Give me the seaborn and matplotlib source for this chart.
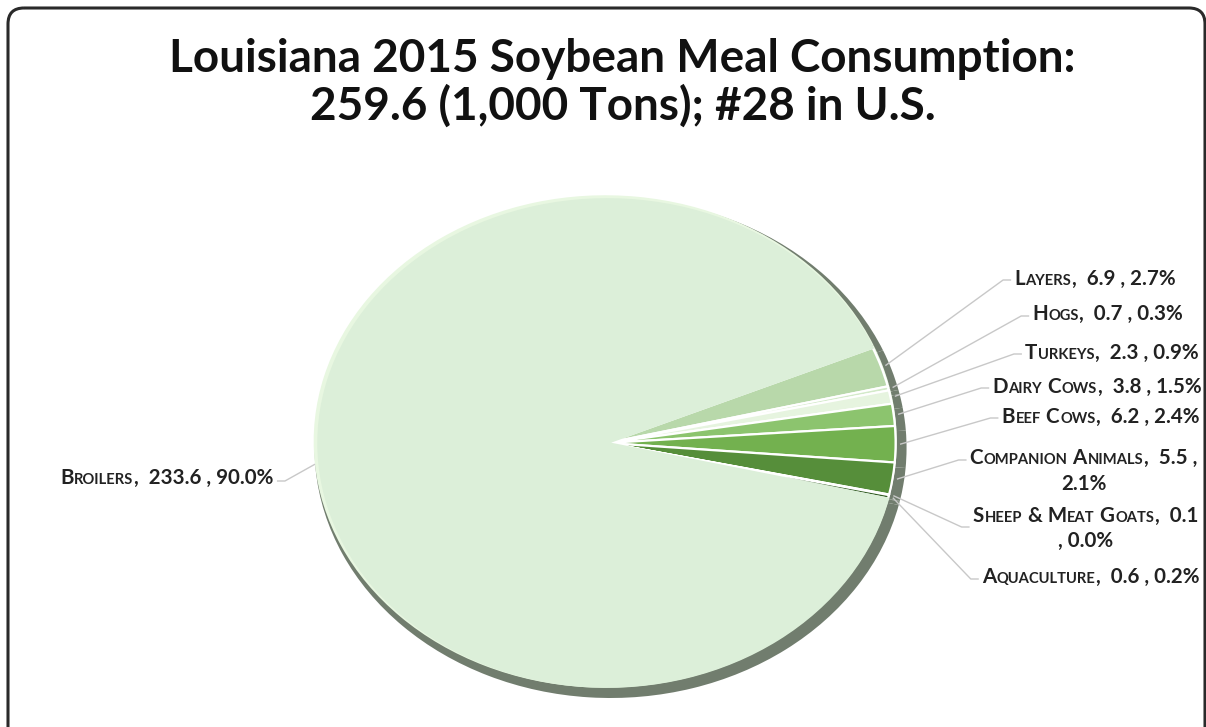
import numpy as np
import pandas as pd
import seaborn as sns
import matplotlib
matplotlib.use("Agg")
import matplotlib.pyplot as plt
from matplotlib.patches import FancyBboxPatch

# ---------------- data ----------------
categories = ["Layers", "Hogs", "Turkeys", "Dairy Cows", "Beef Cows",
              "Companion Animals", "Sheep & Meat Goats", "Aquaculture", "Broilers"]
values = [6.9, 0.7, 2.3, 3.8, 6.2, 5.5, 0.1, 0.6, 233.6]
percents = [2.7, 0.3, 0.9, 1.5, 2.4, 2.1, 0.0, 0.2, 90.0]
title_lines = ["Louisiana 2015 Soybean Meal Consumption:",
               "259.6 (1,000 Tons); #28 in U.S."]

colors = ["#b8d8aa", "#d3eac9", "#e6f4df", "#8cc46e", "#73b14f",
          "#568e3a", "#3f6e2b", "#2f5a20", "#dcefd9"]

# label layout (image pixel coords): centre x, baselines, anchor y
label_layout = {
    "Layers":             dict(cx=1095, by=[285],      ay=280),
    "Hogs":               dict(cx=1108, by=[320],      ay=316),
    "Turkeys":            dict(cx=1112, by=[359],      ay=354),
    "Dairy Cows":         dict(cx=1097, by=[393],      ay=388),
    "Beef Cows":          dict(cx=1101, by=[423],      ay=418),
    "Companion Animals":  dict(cx=1084, by=[464, 490], ay=460),
    "Sheep & Meat Goats": dict(cx=1086, by=[522, 547], ay=527),
    "Aquaculture":        dict(cx=1091, by=[583],      ay=579),
    "Broilers":           dict(cx=167,  by=[484],      ay=481),
}

sns.set_theme(style="white")
plt.rcParams["font.family"] = ["Lato", "DejaVu Sans"]

W, H = 1206, 727
fig = plt.figure(figsize=(W / 100, H / 100), dpi=100)
fig.patch.set_facecolor("white")

# ---------------- pie (elliptical) ----------------
cx, cy, rx, ry = 607, 443, 296, 250
pax = fig.add_axes([(cx - rx) / W, (H - (cy + ry)) / H, 2 * rx / W, 2 * ry / H])
startangle = 23
# shadow rim
pax.pie(values, colors=["#717d6e"] * len(values), startangle=startangle,
        counterclock=False, radius=1.0, center=(0.012, -0.02),
        wedgeprops=dict(linewidth=0))
# highlight rim top-left
pax.pie(values, colors=["#e8f7e1"] * len(values), startangle=startangle,
        counterclock=False, radius=0.985, center=(-0.006, 0.006),
        wedgeprops=dict(linewidth=0))
wedges, _ = pax.pie(values, colors=colors, startangle=startangle,
                    counterclock=False, radius=0.975, center=(0, 0),
                    wedgeprops=dict(linewidth=1.6, edgecolor="white"))
wedges[-1].set_edgecolor("#dcefd9")
pax.set_aspect("auto")
pax.set_xlim(-1, 1)
pax.set_ylim(-1, 1)
pax.axis("off")

# ---------------- overlays in image pixel coords ----------------
ov = fig.add_axes([0, 0, 1, 1], zorder=-1)
ov.set_xlim(0, W)
ov.set_ylim(H, 0)
ov.axis("off")
ov.add_patch(FancyBboxPatch((8, 8), 1197, 760,
                            boxstyle="round,pad=0,rounding_size=16",
                            fill=False, ec="#2a2a2a", lw=2.2, clip_on=True))

ov2 = fig.add_axes([0, 0, 1, 1], zorder=5)
ov2.set_xlim(0, W)
ov2.set_ylim(H, 0)
ov2.axis("off")
ov2.patch.set_alpha(0)

# title
tx_c = 0.5 * (170 + 1075) / W
fig.text(tx_c, (H - 72) / H, title_lines[0], ha="center",
         va="baseline", fontsize=33, fontweight="bold", color="#111111")
fig.text(tx_c, (H - 120) / H, title_lines[1], ha="center",
         va="baseline", fontsize=33, fontweight="bold", color="#111111")

renderer = fig.canvas.get_renderer()
BIG, SMALL = 14.8, 10.6


def smallcaps_runs(s):
    chars = []
    for ch in s:
        if ch.islower():
            chars.append([ch.upper(), SMALL])
        else:
            chars.append([ch, BIG])
    for i in range(len(chars) - 1, -1, -1):
        if chars[i][0] == " ":
            chars[i][1] = chars[i + 1][1] if i + 1 < len(chars) else BIG
    runs = []
    for c, sz in chars:
        if runs and runs[-1][1] == sz:
            runs[-1][0] += c
        else:
            runs.append([c, sz])
    return runs


def draw_line_runs(runs, centre_x, baseline):
    texts, widths = [], []
    for t, sz in runs:
        txt = fig.text(0, 0, t, fontsize=sz, fontweight="bold",
                       color="#222222", va="baseline", ha="left")
        w = txt.get_window_extent(renderer=renderer).width + 0.6
        texts.append(txt)
        widths.append(w)
    total = sum(widths)
    x = centre_x - total / 2
    left = x
    for txt, w in zip(texts, widths):
        txt.set_position((x / W, (H - baseline) / H))
        x += w
    return left, x


total = sum(values)
theta_start = startangle
for cat, val, pct in zip(categories, values, percents):
    span = val / total * 360
    mid = np.deg2rad(theta_start - span / 2)
    theta_start -= span
    lay = label_layout[cat]
    if len(lay["by"]) == 1:
        lines = [f"{cat},  {val:.1f} , {pct:.1f}%"]
    elif cat == "Companion Animals":
        lines = [f"{cat},  {val:.1f} ,", f"{pct:.1f}%"]
    else:
        lines = [f"{cat},  {val:.1f}", f", {pct:.1f}%"]
    extents = []
    for ln, by in zip(lines, lay["by"]):
        extents.append(draw_line_runs(smallcaps_runs(ln), lay["cx"], by))
    ex = cx + rx * 0.99 * np.cos(mid)
    ey = cy - ry * 0.99 * np.sin(mid)
    if cat == "Broilers":
        tx = extents[0][1] + 3
        ov2.plot([ex, tx + 8, tx], [ey, lay["ay"], lay["ay"]],
                 color="#c8c8c8", lw=1.0, solid_capstyle="butt")
    else:
        tx = min(e[0] for e in extents) - 3
        ov2.plot([ex, tx - 8, tx], [ey, lay["ay"], lay["ay"]],
                 color="#c8c8c8", lw=1.0, solid_capstyle="butt")

fig.savefig("out.png", dpi=100, facecolor="white")
